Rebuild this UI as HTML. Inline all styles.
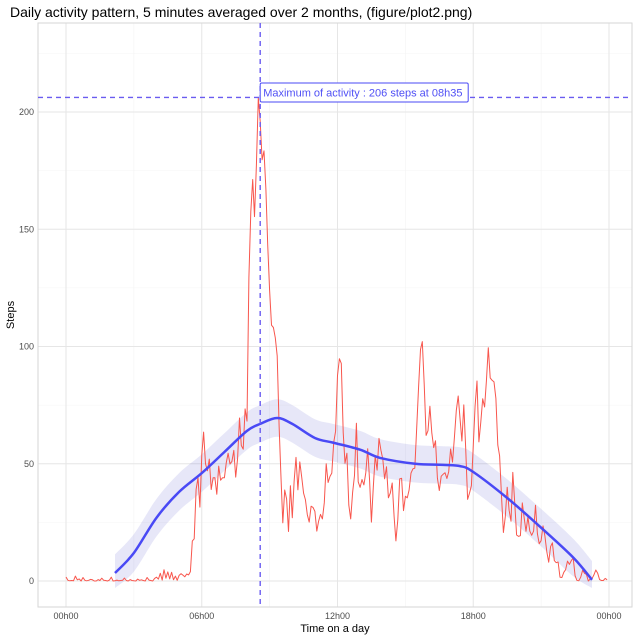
<!DOCTYPE html>
<html><head><meta charset="utf-8"><style>
body{margin:0;background:#fff;}
svg{display:block;font-family:"Liberation Sans",sans-serif;}
</style></head><body>
<svg id="chart" width="640" height="640"></svg>
<script>
const minutes = Array.from({length:288},(_,i)=>i*5);
const steps = [
1.7,0.3,0.1,0.2,0.1,2.1,0.5,0.9,0,1.5,0.3,0.1,
0.3,0.7,0.5,0,0,0.6,0.2,1.2,0.3,0.2,0,0.4,
1.6,0,0.1,0.4,0.1,0.2,0.3,1.3,0.2,0,0.6,0.2,
0.1,0,0.8,0.3,0.5,0.2,0,1.5,0.4,0.2,0,1.1,
1.6,0.8,3.3,0.4,4.8,1.2,3.9,0.9,3.7,0.5,2.1,0.3,
2.4,3.1,2.5,1.8,3.0,2.6,4,17,18,39,44,31.5,
53.8,63.5,50,47,52,39,44,44,37,49,43,44,
44,50.5,54.5,49.9,51,55.7,44.3,52.3,69.5,57.8,56.2,73.4,
68.2,129.4,157.5,171.2,155.4,177.3,206.2,195.9,179.6,183.4,167,143.5,
124,109.1,108.1,103.7,96,66.2,45.2,24.8,38.8,35,21.1,40.6,
27,42.4,52.7,38.9,50.8,44.3,37.4,34.7,28.3,25.1,31.9,31.4,
29.7,21.3,25.5,28.4,26.5,33.4,50,42,44.6,46,59,63.9,
87.6,94.8,92.8,63.4,50.2,54.5,32.4,26.5,37.7,45,67.3,42.3,
39.9,43.3,41,46.2,56.4,42.8,25.1,40,53.5,47.3,60.8,55.8,
52,43.6,48.7,35.5,37.5,41.8,27.5,17.1,26.1,43.6,43.8,30,
36.1,35.5,38.8,46,47.8,48.1,65.3,82.9,98.7,102.1,84,62.1,
64.1,74.5,63.2,56.9,59.8,43.9,38.6,44.7,45.5,46.2,43.7,46.6,
56.3,50.7,61.2,72.7,78.9,68.9,59.7,75.1,56.5,34.8,37.5,40.7,
58,74.7,85.3,59.3,67.8,77.7,74.2,85.3,99.5,86.6,85.6,84.9,
77.8,58,53.4,36.3,20.7,27.4,40,30.2,25.5,46.3,33.5,19.6,
19,19.3,33.3,26.8,21.2,27.3,21.3,19.5,21.3,32.3,20.2,15.9,
17.2,23.5,19.2,12.5,8,14.7,16.3,8.7,7.8,8.1,1.6,1.5,
3.7,4.8,8.5,7.1,8.7,9.8,2.2,0.3,0.1,1.6,4.6,3.3,
2.8,0,0.8,1,2.6,4.7,3.3,0.6,0.2,0.2,1.1,0.5];
const smoothMin = [130,180,240,300,360,420,480,515,560,600,660,708,780,833,926,1000,1045,1080,1170,1258,1345,1395];
const smoothVal = [3.4,12,27,38,46,55,64,67,69.5,67,61,59,56,52.5,50,49.5,49,46.5,35.4,23,10,0.5];
const smoothSe = 8;
const yTicks = [0,50,100,150,200];
const xTickMin = [0,360,720,1080,1440];
const xTickLabels = ["00h00","06h00","12h00","18h00","00h00"];
const maxMinute = 515, maxSteps = 206.2;

const L=38,R=632,T=23,B=607;
const x = m => 66 + m*(609-66)/1440;
const y = v => 581 - v*(581-112)/200;
const svg = document.getElementById('chart');
const NS='http://www.w3.org/2000/svg';
function mk(tag,attrs,parent){const e=document.createElementNS(NS,tag);for(const k in attrs)e.setAttribute(k,attrs[k]);(parent||svg).appendChild(e);return e;}
function spline(pts,move){
  let d=(move?'M':'L')+pts[0][0].toFixed(1)+','+pts[0][1].toFixed(1);
  for(let i=0;i<pts.length-1;i++){
    const p0=pts[Math.max(i-1,0)],p1=pts[i],p2=pts[i+1],p3=pts[Math.min(i+2,pts.length-1)];
    const c1=[p1[0]+(p2[0]-p0[0])/6,p1[1]+(p2[1]-p0[1])/6];
    const c2=[p2[0]-(p3[0]-p1[0])/6,p2[1]-(p3[1]-p1[1])/6];
    d+='C'+c1.map(v=>v.toFixed(1))+' '+c2.map(v=>v.toFixed(1))+' '+p2.map(v=>v.toFixed(1));
  }
  return d;
}

const title = mk('text',{x:10,y:17,'font-size':14,fill:'#000'});
title.textContent='Daily activity pattern, 5 minutes averaged over 2 months, (figure/plot2.png)';



for(let v=25; v<=225; v+=50){const g=mk('line',{x1:L,x2:R,y1:y(v),y2:y(v),stroke:'#f4f4f4','stroke-width':0.6});

}
for(let m=180;m<1440;m+=360){const g=mk('line',{x1:x(m),x2:x(m),y1:T,y2:B,stroke:'#f4f4f4','stroke-width':0.6});

}
yTicks.forEach(v=>{const g=mk('line',{x1:L,x2:R,y1:y(v),y2:y(v),stroke:'#e6e6e6','stroke-width':1});


const t=mk('text',{x:34,y:y(v)+3,'font-size':9,fill:'#4d4d4d','text-anchor':'end'});t.textContent=v;

});
xTickMin.forEach((m,i)=>{const g=mk('line',{x1:x(m),x2:x(m),y1:T,y2:B,stroke:'#e6e6e6','stroke-width':1});


const t=mk('text',{x:x(m),y:619,'font-size':9,fill:'#4d4d4d','text-anchor':'middle'});t.textContent=xTickLabels[i];

});
const border=mk('rect',{x:L,y:T,width:R-L,height:B-T,fill:'none',stroke:'#d6d6d6','stroke-width':1});



const upper=smoothMin.map((m,i)=>[x(m),y(smoothVal[i]+smoothSe)]);
const lower=smoothMin.map((m,i)=>[x(m),y(Math.max(smoothVal[i]-smoothSe,-3))]).reverse();
const band=mk('path',{d:spline(upper,true)+spline(lower,false)+'Z',fill:'#4444cc','fill-opacity':0.13,stroke:'none'});



const lp=steps.map((v,i)=>(i?'L':'M')+x(minutes[i]).toFixed(1)+','+y(v).toFixed(1)).join('');
const line=mk('path',{d:lp,fill:'none',stroke:'#f8564d','stroke-width':1,'stroke-linejoin':'round'});



const sm=mk('path',{d:spline(smoothMin.map((m,i)=>[x(m),y(smoothVal[i])]),true),fill:'none',stroke:'#4949f5','stroke-width':2.5,'stroke-linejoin':'round'});



const vl=mk('line',{x1:x(maxMinute),x2:x(maxMinute),y1:T,y2:B,stroke:'#6a5cf0','stroke-width':1.4,'stroke-dasharray':'5,4'});


const hl=mk('line',{x1:L,x2:R,y1:y(maxSteps),y2:y(maxSteps),stroke:'#6a5cf0','stroke-width':1.4,'stroke-dasharray':'5,4'});


const lb=mk('rect',{x:x(maxMinute),y:83,width:208,height:19,rx:1.5,fill:'#fff',stroke:'#4a4af5','stroke-width':1});


const lt=mk('text',{x:x(maxMinute)+3,y:96.5,'font-size':11,fill:'#5050f5'});
lt.textContent='Maximum of activity : 206 steps at 08h35';



const xt=mk('text',{x:335,y:632,'font-size':11,fill:'#000','text-anchor':'middle'});xt.textContent='Time on a day';


const yt=mk('text',{x:14,y:315,'font-size':11,fill:'#000','text-anchor':'middle',transform:'rotate(-90 14 315)'});yt.textContent='Steps';


</script>
</body></html>
